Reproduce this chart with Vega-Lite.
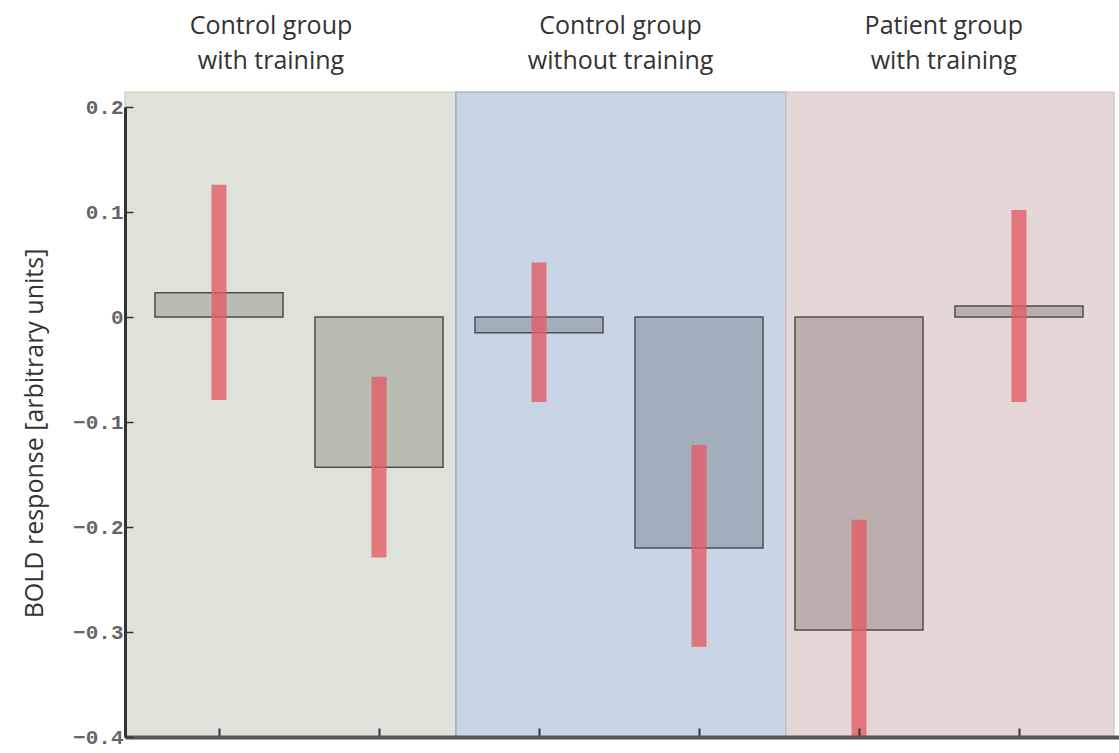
{
  "$schema": "https://vega.github.io/schema/vega-lite/v6.json",
  "width": 994,
  "height": 630,
  "autosize": {"type": "none"},
  "padding": {"left": 125, "top": 107, "right": 0, "bottom": 16},
  "background": "white",
  "config": {"view": {"stroke": null}},
  "datasets": {
    "regions": [
      {"group": "Control group with training", "start": 0.4125, "end": 2.481},
      {"group": "Control group without training", "start": 2.481, "end": 4.544},
      {"group": "Patient group with training", "start": 4.544, "end": 6.594}
    ],
    "titles": [
      {"group": "Control group with training", "pos": 1.325, "line1": "Control group", "line2": "with training"},
      {"group": "Control group without training", "pos": 3.51, "line1": "Control group", "line2": "without training"},
      {"group": "Patient group with training", "pos": 5.53, "line1": "Patient group", "line2": "with training"}
    ],
    "bars": [
      {"group": "Control group with training", "x": 1, "value": 0.023, "lo": -0.079, "hi": 0.126},
      {"group": "Control group with training", "x": 2, "value": -0.143, "lo": -0.229, "hi": -0.057},
      {"group": "Control group without training", "x": 3, "value": -0.015, "lo": -0.081, "hi": 0.052},
      {"group": "Control group without training", "x": 4, "value": -0.22, "lo": -0.314, "hi": -0.122},
      {"group": "Patient group with training", "x": 5, "value": -0.298, "lo": -0.41, "hi": -0.193},
      {"group": "Patient group with training", "x": 6, "value": 0.0105, "lo": -0.081, "hi": 0.102}
    ]
  },
  "layer": [
    {
      "data": {"name": "regions"},
      "mark": {"type": "rect", "strokeWidth": 1.2},
      "encoding": {
        "x": {"field": "start", "type": "quantitative", "scale": {"domain": [0.4125, 6.625], "nice": false, "zero": false, "padding": 0},
              "axis": {"values": [1, 2, 3, 4, 5, 6], "labels": false, "title": null, "grid": false, "zindex": 1, "tickSize": -9, "tickWidth": 2, "tickColor": "#333", "domainColor": "#555", "domainWidth": 4}},
        "x2": {"field": "end"},
        "y": {"datum": 0.2143, "type": "quantitative", "scale": {"domain": [-0.4, 0.2], "nice": false, "zero": false, "padding": 0},
              "axis": {"values": [-0.4, -0.3, -0.2, -0.1, 0, 0.1, 0.2], "format": "~g", "grid": false, "zindex": 1,
                       "title": "BOLD response [arbitrary units]", "titleFont": "Open Sans", "titleFontSize": 25, "titleFontWeight": "normal", "titleColor": "#333",
                       "titleX": -91, "titleY": 326, "titleAngle": -90, "titleAlign": "center", "titleBaseline": "middle",
                       "labelFont": "Liberation Mono", "labelFontSize": 21, "labelFontWeight": "bold", "labelColor": "#666", "labelPadding": 10,
                       "tickSize": -8, "tickWidth": 1.5, "tickColor": "#333", "domainColor": "#333", "domainWidth": 3}},
        "y2": {"datum": -0.4},
        "fill": {"field": "group", "type": "nominal", "legend": null,
                 "scale": {"domain": ["Control group with training", "Control group without training", "Patient group with training"], "range": ["#dfe2d8", "#c9d5e5", "#e6d7d7"]}},
        "stroke": {"field": "group", "type": "nominal", "legend": null,
                   "scale": {"domain": ["Control group with training", "Control group without training", "Patient group with training"], "range": ["#c9cdbf", "#8fa3bd", "#d6c3c3"]}}
      }
    },
    {
      "data": {"name": "bars"},
      "mark": {"type": "bar", "size": 128, "orient": "vertical", "stroke": "#4d4d4d", "strokeWidth": 1.5},
      "encoding": {
        "x": {"field": "x", "type": "quantitative"},
        "y": {"field": "value", "type": "quantitative"},
        "y2": {"datum": 0},
        "color": {"field": "group", "type": "nominal", "legend": null,
                  "scale": {"domain": ["Control group with training", "Control group without training", "Patient group with training"], "range": ["#b9bcb0", "#a3aebc", "#bcaeac"]}}
      }
    },
    {
      "mark": {"type": "rule", "color": "#4d4d4d", "strokeWidth": 2},
      "encoding": {"y": {"datum": 0}}
    },
    {
      "data": {"name": "bars"},
      "mark": {"type": "rule", "color": "#e25c68", "opacity": 0.8, "strokeWidth": 15, "strokeCap": "butt", "clip": true},
      "encoding": {
        "x": {"field": "x", "type": "quantitative"},
        "y": {"field": "lo", "type": "quantitative"},
        "y2": {"field": "hi"}
      }
    },
    {
      "data": {"name": "titles"},
      "mark": {"type": "text", "font": "Open Sans", "fontSize": 25, "color": "#333", "align": "center", "baseline": "middle", "lineHeight": 35},
      "encoding": {
        "x": {"field": "pos", "type": "quantitative"},
        "y": {"datum": 0.277},
        "text": {"field": "lines", "type": "nominal"}
      },
      "transform": [{"calculate": "[datum.line1, datum.line2]", "as": "lines"}]
    }
  ]
}
